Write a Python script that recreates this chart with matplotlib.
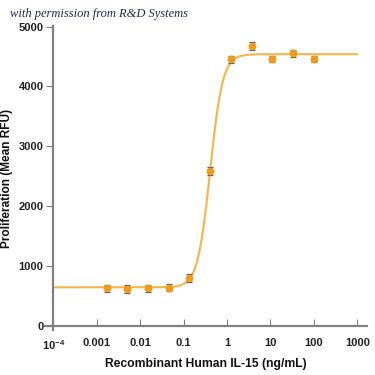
import numpy as np
import matplotlib
matplotlib.use("Agg")
import matplotlib.pyplot as plt
from matplotlib.ticker import FixedLocator, LogLocator, NullFormatter

# measured points (ng/mL, mean RFU, error)
conc = [0.00169, 0.00508, 0.0152, 0.0457, 0.137, 0.41, 1.23, 3.7, 11.1, 33.3, 100]
rfu = [625, 614, 625, 635, 793, 2587, 4455, 4677, 4460, 4555, 4465]
err = [60, 65, 60, 60, 70, 70, 55, 65, 50, 55, 50]

# 4PL fit parameters
bottom, top, ec50, hill = 642, 4540, 0.41, 3.0

xticks = [1e-4, 1e-3, 1e-2, 1e-1, 1, 10, 100, 1000]
xticklabels = ["10$^{-4}$", "0.001", "0.01", "0.1", "1", "10", "100", "1000"]
yticks = [0, 1000, 2000, 3000, 4000, 5000]

line_col = "#F5B54A"
pt_col = "#F09A1C"
axis_col = "#808080"
fam = ["Liberation Sans", "DejaVu Sans"]

plt.rcParams["mathtext.fontset"] = "custom"
plt.rcParams["mathtext.rm"] = "Liberation Sans:bold"
plt.rcParams["mathtext.it"] = "Liberation Sans:bold"

fig = plt.figure(figsize=(3.75, 3.75), dpi=100)
ax = fig.add_axes([0.12, 0.1187, 0.858, 0.8133])

xs = np.logspace(-4, 3, 400)
ax.plot(xs, bottom + (top - bottom) / (1 + (ec50 / xs) ** hill), color=line_col, lw=1.5, zorder=2)
ax.errorbar(conc, rfu, yerr=err, fmt="o", ms=4.6, color=pt_col, ecolor="#5a5a5a",
            elinewidth=0.8, capsize=2.5, capthick=0.9, zorder=3)

ax.set_xscale("log")
ax.set_xlim(10 ** -4.19, 10 ** 3.22)
ax.set_ylim(-80, 5020)

for s in ["top", "right"]:
    ax.spines[s].set_visible(False)
ax.spines["bottom"].set_position(("data", 0))
ax.spines["left"].set_position(("data", 1e-4))
for s in ["bottom", "left"]:
    ax.spines[s].set_color(axis_col)
    ax.spines[s].set_linewidth(1.6)

ax.xaxis.set_major_locator(FixedLocator(xticks))
ax.xaxis.set_minor_locator(LogLocator(base=10, subs=np.arange(2, 10)))
ax.xaxis.set_minor_formatter(NullFormatter())
ax.set_xticklabels(xticklabels)
ax.set_yticks(yticks)
ax.tick_params(axis="x", which="major", direction="in", length=5, width=0.8, color=axis_col, pad=9)
ax.tick_params(axis="x", which="minor", direction="in", length=3, width=0.6, color=axis_col)
ax.tick_params(axis="y", direction="out", length=5, width=0.8, color=axis_col, pad=2)

for lab in ax.get_xticklabels() + ax.get_yticklabels():
    lab.set_fontfamily(fam)
    lab.set_fontweight("bold")
    lab.set_fontsize(8)
    lab.set_color("#222222")

ax.set_xlabel("Recombinant Human IL-15 (ng/mL)", family=fam, fontweight="bold",
              fontsize=8.7, color="#111111", labelpad=4)
ax.set_ylabel("Proliferation (Mean RFU)", family=fam, fontweight="bold",
              fontsize=8.6, color="#111111")
ax.yaxis.set_label_coords(-0.10, 0.5)

fig.text(0.027, 0.955, "with permission from R&D Systems", family="Liberation Serif",
         style="italic", fontsize=9, color="#1F2A55")

fig.savefig("out.png", dpi=100)
